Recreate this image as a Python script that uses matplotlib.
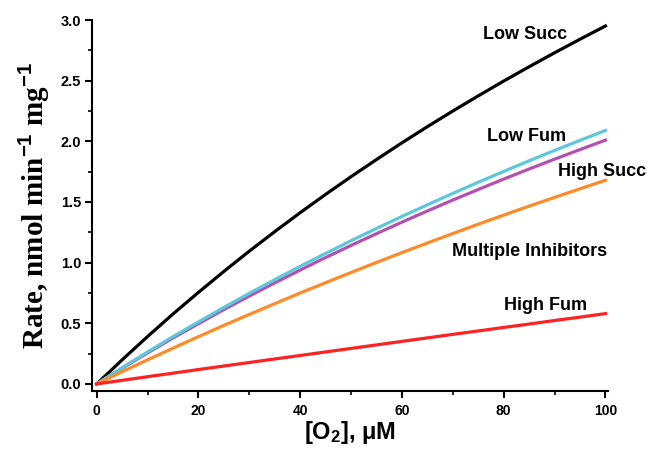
import matplotlib
matplotlib.use("Agg")
import matplotlib.pyplot as plt
from matplotlib.ticker import MultipleLocator, FormatStrFormatter

# values
o2 = [0, 5, 10, 15, 20, 25, 30, 35, 40, 45, 50,
      55, 60, 65, 70, 75, 80, 85, 90, 95, 100]
low_succ = [0, 0.199, 0.391, 0.577, 0.755, 0.928, 1.095, 1.256, 1.412, 1.563, 1.709,
            1.850, 1.988, 2.121, 2.250, 2.375, 2.497, 2.615, 2.730, 2.842, 2.951]
low_fum = [0, 0.134, 0.264, 0.390, 0.512, 0.631, 0.747, 0.860, 0.970, 1.076, 1.181,
           1.282, 1.381, 1.477, 1.571, 1.663, 1.752, 1.840, 1.925, 2.008, 2.090]
high_succ = [0, 0.130, 0.256, 0.379, 0.497, 0.613, 0.725, 0.833, 0.939, 1.042, 1.142,
             1.239, 1.334, 1.426, 1.516, 1.603, 1.689, 1.772, 1.853, 1.932, 2.010]
multi_inh = [0, 0.101, 0.199, 0.295, 0.390, 0.483, 0.573, 0.662, 0.750, 0.835, 0.919,
             1.002, 1.083, 1.162, 1.240, 1.317, 1.392, 1.466, 1.538, 1.609, 1.679]
high_fum = [0, 0.030, 0.060, 0.089, 0.119, 0.148, 0.177, 0.206, 0.235, 0.264, 0.293,
            0.322, 0.351, 0.380, 0.409, 0.437, 0.466, 0.494, 0.523, 0.551, 0.580]

plt.rcParams['font.family'] = ['Liberation Sans', 'DejaVu Sans']
plt.rcParams['font.weight'] = 'bold'
plt.rcParams['mathtext.fontset'] = 'custom'
plt.rcParams['mathtext.rm'] = 'Liberation Sans:bold'
plt.rcParams['mathtext.it'] = 'Liberation Sans:bold'
plt.rcParams['mathtext.bf'] = 'Liberation Sans:bold'

fig = plt.figure(figsize=(6.51, 4.5), dpi=100)
ax = fig.add_axes([0.1415, 0.1311, 0.7917, 0.8244])

lw = 2.3
ax.plot(o2, low_succ, color='#000000', lw=lw)
ax.plot(o2, high_succ, color='#b450b0', lw=lw)
ax.plot(o2, low_fum, color='#5cc8dc', lw=lw)
ax.plot(o2, multi_inh, color='#ff8a28', lw=lw)
ax.plot(o2, high_fum, color='#ff2222', lw=lw)

lab_size = 13
ax.text(84.1, 2.877, "Low Succ", ha='center', va='center', fontsize=lab_size)
ax.text(84.4, 2.036, "Low Fum", ha='center', va='center', fontsize=lab_size)
ax.text(99.4, 1.748, "High Succ", ha='center', va='center', fontsize=lab_size)
ax.text(85.1, 1.088, "Multiple Inhibitors", ha='center', va='center', fontsize=lab_size)
ax.text(88.2, 0.643, "High Fum", ha='center', va='center', fontsize=lab_size)

ax.set_xlim(-0.9, 100.4)
ax.set_ylim(-0.058, 3.0)
ax.spines['top'].set_visible(False)
ax.spines['right'].set_visible(False)
ax.spines['left'].set_linewidth(1.5)
ax.spines['bottom'].set_linewidth(1.5)

ax.xaxis.set_major_locator(MultipleLocator(20))
ax.xaxis.set_minor_locator(MultipleLocator(10))
ax.yaxis.set_major_locator(MultipleLocator(0.5))
ax.yaxis.set_minor_locator(MultipleLocator(0.25))
ax.yaxis.set_major_formatter(FormatStrFormatter('%.1f'))
ax.tick_params(which='major', direction='out', length=5, width=1.5)
ax.tick_params(which='minor', direction='out', length=3, width=1.2)
ax.tick_params(axis='y', labelsize=10.5, pad=3)
ax.tick_params(axis='x', labelsize=10, pad=4)

ax.set_xlabel("[O$_2$], μM", fontsize=17, fontweight='bold', labelpad=1)
ax.set_ylabel("Rate, nmol min$^{-1}$ mg$^{-1}$", fontsize=21,
              fontfamily='Liberation Serif', fontweight='bold', labelpad=6)

fig.savefig("out.png", dpi=100)
